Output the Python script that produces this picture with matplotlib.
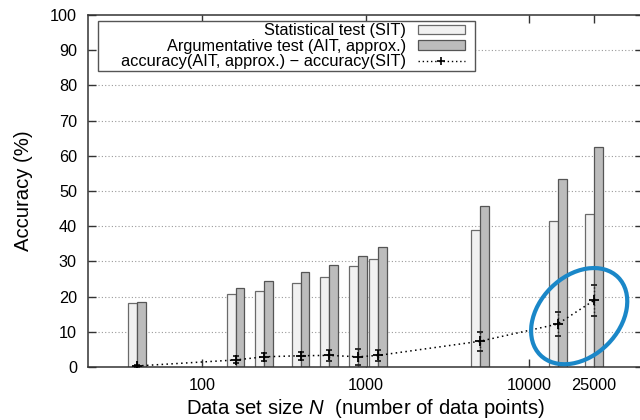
import numpy as np
import matplotlib
matplotlib.use("Agg")
import matplotlib.pyplot as plt
from matplotlib.patches import Rectangle, Ellipse
from matplotlib.lines import Line2D
from matplotlib.ticker import NullLocator, FixedLocator, FixedFormatter
from matplotlib.transforms import ScaledTranslation

plt.rcParams['font.family'] = ['Liberation Sans', 'DejaVu Sans']
plt.rcParams['mathtext.fontset'] = 'custom'
plt.rcParams['mathtext.it'] = 'Liberation Sans:italic'
plt.rcParams['mathtext.rm'] = 'Liberation Sans'

# ---- data ----
sizes = [40, 160, 240, 400, 600, 900, 1200, 5000, 15000, 25000]
acc_sit = [18.1, 20.6, 21.6, 23.8, 25.6, 28.7, 30.8, 38.8, 41.5, 43.5]
acc_ait = [18.4, 22.5, 24.3, 27.0, 28.9, 31.6, 34.2, 45.8, 53.4, 62.5]
acc_diff = [0.3, 2.0, 2.9, 3.2, 3.3, 2.9, 3.3, 7.3, 12.2, 18.9]
diff_err = [0.3, 1.0, 1.2, 1.1, 1.5, 2.2, 1.6, 2.7, 3.4, 4.5]
xtick_vals = [100, 1000, 10000, 25000]
xtick_labels = ["100", "1000", "10000", "25000"]
ytick_vals = list(range(0, 101, 10))

FS_TICK = 11.7
FS_LEG = 11.8
FS_LAB = 14.6

fig = plt.figure(figsize=(6.4, 4.2), dpi=100)
ax = fig.add_axes([88/640, 53/420, 555/640, 352/420])
ax.set_xscale('log')
ax.set_xlim(20, 50000)
ax.set_ylim(0, 100)

# grid
for y in ytick_vals[1:-1]:
    ax.axhline(y, color='#9a9a9a', lw=0.8, ls=(0, (1, 2)), zorder=0)

# bars (constant pixel width in log space)
w = 0.055
N = np.array(sizes, dtype=float)
left_edge = N / 10**w
right_edge = N * 10**w
ax.bar(left_edge, acc_sit, width=N - left_edge, align='edge',
       color='#f1f1f1', edgecolor='#6a6a6a', linewidth=0.9, zorder=2)
ax.bar(N, acc_ait, width=right_edge - N, align='edge',
       color='#bcbcbc', edgecolor='#555555', linewidth=0.9, zorder=2)

# difference line with error bars
ax.plot(sizes, acc_diff, color='black', ls=(0, (1, 2.2)), lw=1.1, zorder=4)
eb = ax.errorbar(sizes, acc_diff, yerr=diff_err, fmt='+', color='black',
                 ms=6.5, mew=1.3, ecolor='#222222', elinewidth=1.0, capsize=2.2,
                 capthick=0.7, zorder=5)
for col in eb[2]:
    col.set_linestyle((0, (1, 1.5)))

# axes styling
for s in ax.spines.values():
    s.set_color('#333333')
    s.set_linewidth(1.1)
ax.xaxis.set_major_locator(FixedLocator(xtick_vals))
ax.xaxis.set_major_formatter(FixedFormatter(xtick_labels))
ax.xaxis.set_minor_locator(NullLocator())
ax.set_yticks(ytick_vals)
ax.tick_params(direction='in', top=True, right=True, length=6, width=1.0,
               color='#333333', labelsize=FS_TICK, pad=8)
ax.set_xlabel("Data set size $N$  (number of data points)", fontsize=FS_LAB, labelpad=3)
ax.set_ylabel("Accuracy (%)", fontsize=FS_LAB, labelpad=12)

# legend frame (gnuplot-style key box)
frame = Rectangle((10/555, 1 - 56.3/352), 377/555, 50.3/352, transform=ax.transAxes,
                  facecolor='white', edgecolor='#555555', lw=1.0, zorder=9)
ax.add_patch(frame)

handles = [
    Rectangle((0, 0), 1, 1, facecolor='#f1f1f1', edgecolor='#6a6a6a', lw=0.9),
    Rectangle((0, 0), 1, 1, facecolor='#bcbcbc', edgecolor='#555555', lw=0.9),
    Line2D([], [], color='black', ls=(0, (1, 2)), lw=1.0, marker='+', ms=6, mew=1.2),
]
labels = ["Statistical test (SIT)", "Argumentative test (AIT, approx.)",
          "accuracy(AIT, approx.) \u2212 accuracy(SIT)"]
leg = ax.legend(handles, labels, loc='upper right', bbox_to_anchor=(377/555, 0.976),
                borderaxespad=0, markerfirst=False, fontsize=FS_LEG, frameon=False,
                handlelength=2.87, handleheight=0.5, labelspacing=0.03,
                handletextpad=0.73, borderpad=0.0)
for t in leg.get_texts():
    t.set_ha('right')
leg.set_zorder(10)

# highlight ellipse around the last two difference points
xc = np.sqrt(sizes[-2] * sizes[-1]) * 1.05
yc = (acc_diff[-2] + acc_diff[-1]) / 2 - 1.1
ell = Ellipse((0, 0), 1.10, 0.80, angle=45, fill=False, edgecolor='#1a87c8',
              lw=3.0, transform=fig.dpi_scale_trans + ScaledTranslation(xc, yc, ax.transData),
              zorder=20, clip_on=False)
fig.add_artist(ell)

fig.savefig("out.png", dpi=100)
